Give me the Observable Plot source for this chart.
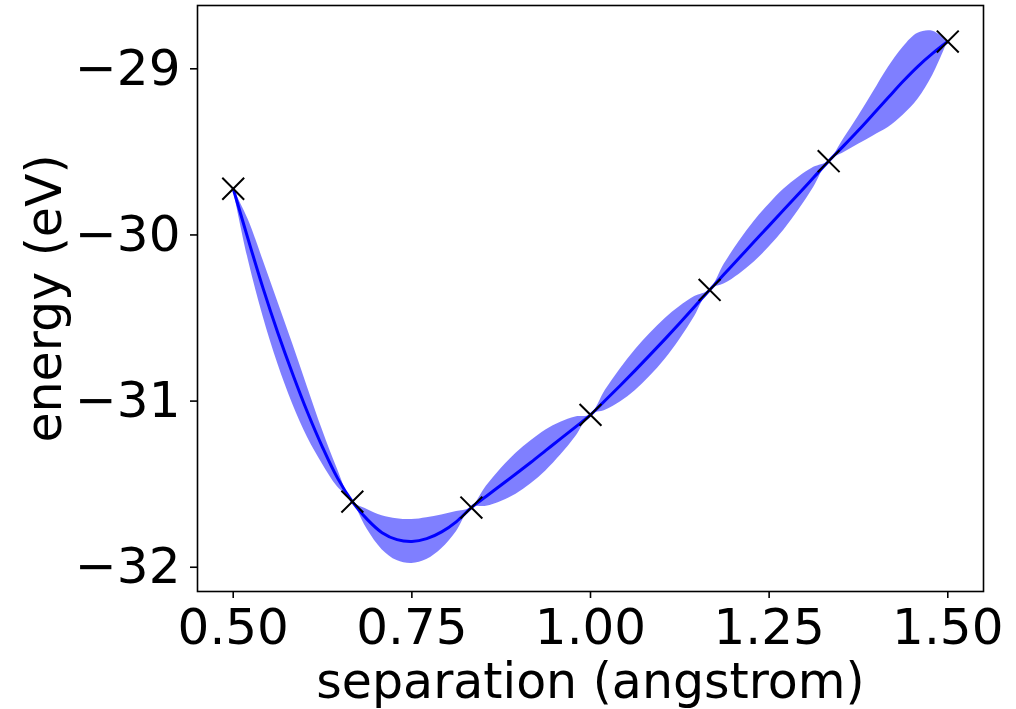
<!DOCTYPE html>
<html><head><meta charset="utf-8">
<script src="https://cdn.jsdelivr.net/npm/d3@7"></script>
<script src="https://cdn.jsdelivr.net/npm/@observablehq/plot@0.6"></script>
<style>body{margin:0;background:#fff}#chart svg{display:block}</style>
</head><body><div id="chart"></div>
<script>
// GP-fit samples along separation (angstrom)
const separation = [0.5, 0.5208, 0.5417, 0.5625, 0.5833, 0.6042, 0.625, 0.6458,
  0.6667, 0.6875, 0.7083, 0.7292, 0.75, 0.7708, 0.7917, 0.8125,
  0.8333, 0.8542, 0.875, 0.8958, 0.9167, 0.9375, 0.9583, 0.9792,
  1.0, 1.0208, 1.0417, 1.0625, 1.0833, 1.1042, 1.125, 1.1458,
  1.1667, 1.1875, 1.2083, 1.2292, 1.25, 1.2708, 1.2917, 1.3125,
  1.3333, 1.3542, 1.375, 1.3958, 1.4167, 1.4375, 1.4583, 1.4792, 1.5];
// predicted mean energy (eV)
const energyMean = [-29.722, -30.025, -30.320, -30.590, -30.838, -31.070, -31.278, -31.462,
  -31.605, -31.712, -31.792, -31.834, -31.845, -31.828, -31.787, -31.725,
  -31.641, -31.573, -31.505, -31.437, -31.368, -31.297, -31.226, -31.155,
  -31.083, -30.995, -30.906, -30.815, -30.722, -30.627, -30.530, -30.431,
  -30.331, -30.234, -30.137, -30.040, -29.944, -29.847, -29.750, -29.653,
  -29.556, -29.464, -29.370, -29.272, -29.173, -29.075, -28.985, -28.906, -28.836];
// half-width of the uncertainty band (eV)
const energyUncertainty = [0, 0.120, 0.169, 0.187, 0.181, 0.151, 0.102, 0.054,
  0, 0.060, 0.102, 0.126, 0.132, 0.126, 0.102, 0.060,
  0, 0.060, 0.099, 0.123, 0.129, 0.123, 0.099, 0.060,
  0, 0.060, 0.099, 0.123, 0.129, 0.123, 0.099, 0.060,
  0, 0.060, 0.099, 0.123, 0.129, 0.123, 0.099, 0.060,
  0, 0.042, 0.084, 0.132, 0.181, 0.205, 0.199, 0.132, 0];
// computed training points
const sampleSeparation = [0.5, 0.6667, 0.8333, 1.0, 1.1667, 1.3333, 1.5];
const sampleEnergy = [-29.722, -31.605, -31.641, -31.083, -30.331, -29.556, -28.836];
// axis ticks
const xTicks = [0.5, 0.75, 1.0, 1.25, 1.5];
const yTicks = [-32, -31, -30, -29];

const band = separation.map((x, i) => ({
  x, m: energyMean[i], lo: energyMean[i] - energyUncertainty[i], hi: energyMean[i] + energyUncertainty[i]
}));
const pts = sampleSeparation.map((x, i) => ({x, y: sampleEnergy[i]}));

const chart = Plot.plot({
  width: 1016, height: 709,
  marginLeft: 197, marginRight: 33, marginTop: 5, marginBottom: 118,
  style: {fontFamily: "DejaVu Sans", background: "white", color: "black", overflow: "visible"},
  x: {domain: [0.45, 1.55]},
  y: {domain: [-32.146, -28.619]},
  marks: [
    Plot.areaY(band, {x: "x", y1: "lo", y2: "hi", fill: "blue", fillOpacity: 0.5, curve: "catmull-rom"}),
    Plot.lineY(band, {x: "x", y: "m", stroke: "blue", strokeWidth: 3, curve: "catmull-rom"}),
    Plot.dot(pts, {x: "x", y: "y", symbol: "times", r: 10, stroke: "black", strokeWidth: 2}),
    Plot.axisX(xTicks, {tickSize: 7, tickPadding: 10, strokeWidth: 1.6, tickFormat: d3.format(".2f"), fontSize: 50, label: null}),
    Plot.axisX({ticks: [], label: "separation (angstrom)", labelArrow: "none", labelAnchor: "center", labelOffset: 106, fontSize: 49}),
    Plot.axisY(yTicks, {tickSize: 7, tickPadding: 10, strokeWidth: 1.6, tickFormat: d3.format("d"), fontSize: 50, label: null}),
    Plot.axisY({ticks: [], label: "energy (eV)", labelArrow: "none", labelAnchor: "center", labelOffset: 171, fontSize: 49}),
    Plot.frame({stroke: "black", strokeWidth: 1.6})
  ]
});
document.getElementById("chart").append(chart);
</script>
</body></html>
